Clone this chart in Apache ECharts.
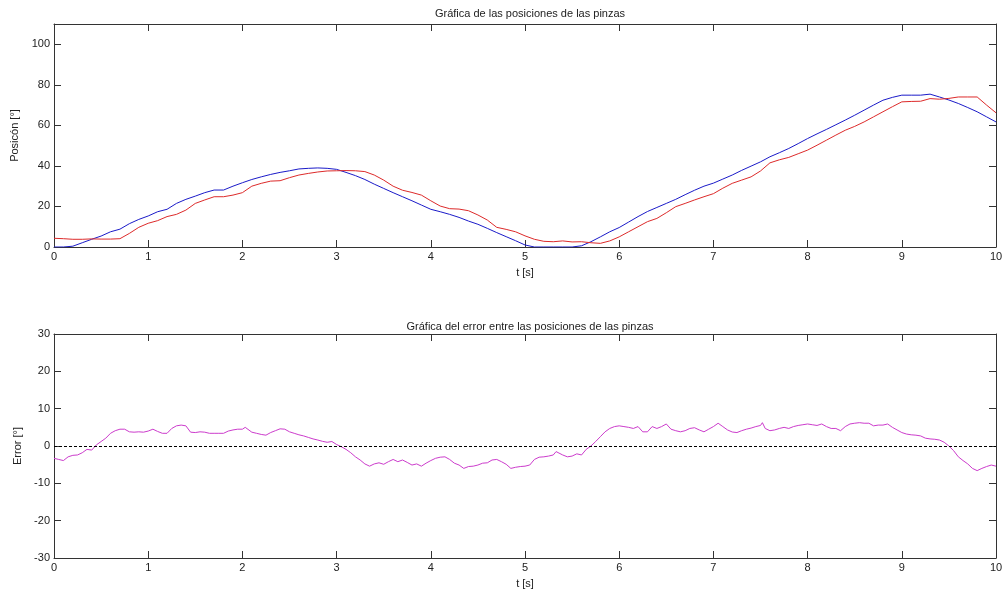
<!DOCTYPE html>
<html>
<head>
<meta charset="utf-8">
<script src="https://cdn.jsdelivr.net/npm/echarts@6/dist/echarts.min.js"></script>
<style>
  html, body { margin: 0; padding: 0; background: #fff; }
  #chart { width: 1006px; height: 598px; }
</style>
</head>
<body>
<div id="chart"></div>
<script>
// Sample times for the two gripper positions [s]
const tPos = [0,0.1,0.2,0.3,0.4,0.5,0.6,0.7,0.8,0.9,1,1.1,1.2,1.3,1.4,1.5,1.6,1.7,1.8,1.9,2,2.1,2.2,2.3,2.4,2.5,2.6,2.7,2.8,2.9,3,3.1,3.2,3.3,3.4,3.5,3.6,3.7,3.8,3.9,4,4.1,4.2,4.3,4.4,4.5,4.6,4.7,4.8,4.9,5,5.1,5.2,5.3,5.4,5.5,5.6,5.7,5.8,5.9,6,6.1,6.2,6.3,6.4,6.5,6.6,6.7,6.8,6.9,7,7.1,7.2,7.3,7.4,7.5,7.6,7.7,7.8,7.9,8,8.1,8.2,8.3,8.4,8.5,8.6,8.7,8.8,8.9,9,9.1,9.2,9.3,9.4,9.5,9.6,9.7,9.8,9.9,10];

// Gripper 1 position [deg] (blue)
const posBlue = [0,0,0.4,2.1,3.8,5.4,7.5,8.8,11.5,13.6,15.3,17.4,18.6,21.5,23.5,25.1,26.8,28.1,28.1,30,31.7,33.3,34.6,35.8,36.8,37.6,38.5,38.8,39,38.8,38.3,36.8,35.2,33.3,31,28.9,26.8,24.8,22.8,20.7,18.6,17.4,16.1,14.6,12.8,11.2,9.2,7.1,5.1,3.1,1,0,0,0,0,0,0.6,2.6,5,7.5,9.6,12.3,15,17.5,19.5,21.5,23.5,25.8,28,30,31.5,33.5,35.5,37.8,39.9,42,44.5,46.5,48.6,51,53.5,55.8,58,60.3,62.6,65,67.5,70,72.4,73.8,74.9,74.9,74.9,75.4,74,72.5,70.8,68.8,66.7,64.2,61.7];

// Gripper 2 position [deg] (red)
const posRed = [4.3,4.1,3.8,3.8,4,3.9,3.9,4.1,6.7,9.7,11.7,13,15,16.1,18.2,21.5,23.2,24.8,24.8,25.6,26.8,30,31.4,32.5,32.7,34.2,35.5,36.3,37,37.5,37.6,37.7,37.6,37.2,35.5,33,30,28,26.9,25.6,22.8,20.2,18.9,18.7,17.9,15.8,13.3,9.7,8.7,7.5,5.5,3.8,2.8,2.6,3,2.5,2.6,2.1,1.8,3,5,7.5,10,12.5,14.1,16.9,19.9,21.5,23.2,24.8,26.3,29,31.4,33,34.6,37.5,41.5,43,44.2,46,47.8,50.2,52.7,55.2,57.6,59.5,61.7,64.2,66.7,69.2,71.6,71.8,71.9,73.2,72.9,73.3,74,74,74,70,66.2];

// Sample times for the position error [s]
const tErr = [0,0.05,0.1,0.15,0.2,0.25,0.3,0.35,0.4,0.45,0.5,0.55,0.6,0.65,0.7,0.75,0.8,0.85,0.9,0.95,1,1.05,1.1,1.15,1.2,1.25,1.3,1.35,1.4,1.45,1.5,1.55,1.6,1.65,1.7,1.75,1.8,1.85,1.9,1.95,2,2.03,2.05,2.1,2.15,2.2,2.25,2.3,2.35,2.4,2.45,2.5,2.55,2.6,2.65,2.7,2.75,2.8,2.85,2.9,2.95,3,3.05,3.1,3.15,3.2,3.25,3.3,3.35,3.4,3.45,3.5,3.55,3.6,3.65,3.7,3.75,3.8,3.85,3.9,3.95,4,4.05,4.1,4.15,4.2,4.25,4.3,4.35,4.4,4.45,4.5,4.55,4.6,4.65,4.7,4.75,4.8,4.85,4.9,4.95,5,5.05,5.1,5.15,5.2,5.25,5.3,5.33,5.35,5.4,5.45,5.5,5.55,5.6,5.65,5.7,5.75,5.8,5.85,5.9,5.95,6,6.05,6.1,6.15,6.2,6.25,6.3,6.35,6.4,6.45,6.5,6.55,6.6,6.65,6.7,6.75,6.8,6.85,6.9,6.95,7,7.05,7.1,7.15,7.2,7.25,7.3,7.35,7.4,7.45,7.5,7.52,7.55,7.6,7.65,7.7,7.75,7.8,7.85,7.9,7.95,8,8.05,8.1,8.15,8.2,8.25,8.3,8.35,8.4,8.45,8.5,8.55,8.6,8.62,8.65,8.7,8.75,8.8,8.85,8.9,8.95,9,9.05,9.1,9.15,9.2,9.25,9.3,9.35,9.4,9.45,9.5,9.55,9.6,9.65,9.7,9.75,9.8,9.85,9.9,9.95,10];

// Position error [deg] (magenta)
const errVal = [-3.3,-3.6,-3.9,-2.9,-2.5,-2.4,-1.8,-0.9,-1.1,0.3,1.2,2.1,3.4,4.1,4.5,4.5,3.8,3.7,3.8,3.7,4,4.5,3.9,3.4,3.4,4.7,5.4,5.6,5.4,3.7,3.6,3.8,3.7,3.4,3.4,3.4,3.4,4,4.3,4.5,4.5,5,4.5,3.7,3.4,3.1,2.9,3.6,4.1,4.6,4.5,3.8,3.4,3,2.7,2.3,1.9,1.6,1.25,1,1.2,0.4,-0.2,-0.9,-1.8,-2.9,-3.75,-4.8,-5.4,-4.8,-4.5,-4.9,-4.2,-3.6,-4.2,-3.75,-4.4,-5.1,-4.8,-5.4,-4.6,-3.9,-3.3,-3,-2.9,-3.6,-4.6,-5.1,-6,-5.5,-5.4,-5.1,-4.6,-4.5,-3.75,-3.6,-4.2,-4.9,-6,-5.7,-5.5,-5.4,-5.1,-3.6,-3,-2.9,-2.7,-2.4,-1.5,-2,-2.4,-2.9,-2.7,-2.1,-2.4,-0.9,0,1.2,2.5,3.8,4.7,5.2,5.4,5.2,5,4.7,5.2,3.8,3.8,5.2,4.7,5.2,5.9,4.5,4.1,3.8,4.1,4.7,4.9,4.3,3.8,4.5,5.2,6.1,5.2,4.3,3.75,3.6,4.1,4.5,4.8,5.2,5.5,6.25,4.7,4.1,4.3,4.7,5,4.7,5.2,5.5,5.7,5.9,5.7,5.5,5.9,5.2,4.7,4.7,4.1,5.2,5.9,6.1,6.25,6.1,6.6,6.1,5.4,5.6,5.6,5.9,5,4.3,3.6,3.2,3,2.9,2.7,2.1,1.9,1.8,1.6,1,0,-1.25,-2.9,-3.9,-4.8,-6,-6.6,-6,-5.5,-5.1,-5.4];

// Tick labels
const xTicks = [0,1,2,3,4,5,6,7,8,9,10];
const yTicksPos = [0,20,40,60,80,100];
const yTicksErr = [-30,-20,-10,0,10,20,30];

const FONT = '"Liberation Sans", Arial, sans-serif';
const AX = '#333';
const TXT = '#222';

function zip(a, b) { return a.map((v, i) => [v, b[i]]); }

function xAxisBottom(grid) {
  return {
    type: 'value', gridIndex: grid, position: 'bottom',
    min: xTicks[0], max: xTicks[xTicks.length - 1], interval: 1,
    axisLine: { show: true, onZero: false, lineStyle: { color: AX, width: 1 } },
    axisTick: { show: true, inside: true, length: 7, lineStyle: { color: AX } },
    splitLine: { show: false },
    axisLabel: { color: TXT, fontSize: 11, fontFamily: FONT, margin: 4 },
    name: 't [s]', nameLocation: 'middle', nameGap: 20,
    nameTextStyle: { color: TXT, fontSize: 11, fontFamily: FONT }
  };
}
function xAxisTop(grid) {
  return {
    type: 'value', gridIndex: grid, position: 'top',
    min: xTicks[0], max: xTicks[xTicks.length - 1], interval: 1,
    axisLine: { show: true, onZero: false, lineStyle: { color: AX, width: 1 } },
    axisTick: { show: true, inside: true, length: 7, lineStyle: { color: AX } },
    splitLine: { show: false }, axisLabel: { show: false }
  };
}
function yAxisLeft(grid, ticks, max, name) {
  return {
    type: 'value', gridIndex: grid, position: 'left',
    min: ticks[0], max: max, interval: ticks[1] - ticks[0],
    axisLine: { show: true, onZero: false, lineStyle: { color: AX, width: 1 } },
    axisTick: { show: true, inside: true, length: 7, lineStyle: { color: AX } },
    splitLine: { show: false },
    axisLabel: {
      color: TXT, fontSize: 11, fontFamily: FONT, margin: 4,
      formatter: v => (ticks.indexOf(v) >= 0 ? String(v) : '')
    },
    name: name, nameLocation: 'middle', nameGap: 28, nameRotate: 90,
    nameTextStyle: { color: TXT, fontSize: 11, fontFamily: FONT }
  };
}
function yAxisRight(grid, ticks, max) {
  return {
    type: 'value', gridIndex: grid, position: 'right',
    min: ticks[0], max: max, interval: ticks[1] - ticks[0],
    axisLine: { show: true, onZero: false, lineStyle: { color: AX, width: 1 } },
    axisTick: { show: true, inside: true, length: 7, lineStyle: { color: AX } },
    splitLine: { show: false }, axisLabel: { show: false }
  };
}

const chart = echarts.init(document.getElementById('chart'), null, { renderer: 'canvas' });
chart.setOption({
  animation: false,
  backgroundColor: '#fff',
  title: [
    { text: 'Gráfica de las posiciones de las pinzas', left: 525, top: 3, textAlign: 'center',
      textStyle: { color: TXT, fontSize: 11, fontWeight: 'normal', fontFamily: FONT } },
    { text: 'Gráfica del error entre las posiciones de las pinzas', left: 525, top: 316, textAlign: 'center',
      textStyle: { color: TXT, fontSize: 11, fontWeight: 'normal', fontFamily: FONT } }
  ],
  grid: [
    { left: 54, right: 10, top: 24, height: 223 },
    { left: 54, right: 10, top: 334, height: 224 }
  ],
  xAxis: [xAxisBottom(0), xAxisTop(0), xAxisBottom(1), xAxisTop(1)],
  yAxis: [
    yAxisLeft(0, yTicksPos, 110, 'Posicón [°]'), yAxisRight(0, yTicksPos, 110),
    yAxisLeft(1, yTicksErr, 30, 'Error [°]'), yAxisRight(1, yTicksErr, 30)
  ],
  series: [
    { name: 'Pinza 1', type: 'line', xAxisIndex: 0, yAxisIndex: 0, data: zip(tPos, posBlue),
      showSymbol: false, lineStyle: { color: '#1a1ac8', width: 1 }, itemStyle: { color: '#1a1ac8' } },
    { name: 'Pinza 2', type: 'line', xAxisIndex: 0, yAxisIndex: 0, data: zip(tPos, posRed),
      showSymbol: false, lineStyle: { color: '#dd2a2a', width: 1 }, itemStyle: { color: '#dd2a2a' } },
    { name: 'Error', type: 'line', xAxisIndex: 2, yAxisIndex: 2, data: zip(tErr, errVal),
      showSymbol: false, lineStyle: { color: '#cc3ccc', width: 1 }, itemStyle: { color: '#cc3ccc' },
      markLine: {
        silent: true, symbol: ['none', 'none'], label: { show: false },
        lineStyle: { color: '#000', width: 1, type: [3, 2] },
        data: [{ yAxis: 0 }]
      } }
  ]
});
</script>
</body>
</html>
